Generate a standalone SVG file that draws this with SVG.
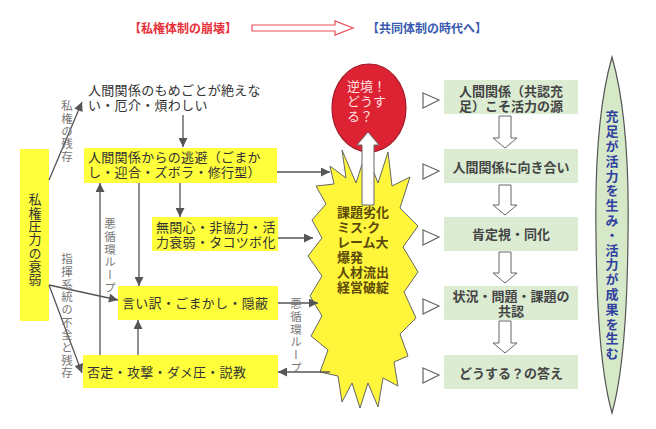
<svg xmlns="http://www.w3.org/2000/svg" width="656" height="429" viewBox="0 0 656 429">
<defs>
<marker id="ah" viewBox="0 0 10 10" refX="10" refY="5" markerWidth="10" markerHeight="9" markerUnits="userSpaceOnUse" orient="auto">
<path d="M0,0 L10,5 L0,10 Z" fill="#555"/>
</marker>
<style>
text{font-family:"Liberation Sans","Noto Sans CJK JP",sans-serif;}
.v{font-family:"Noto Sans CJK JP",sans-serif;writing-mode:vertical-rl;}
.t{font-size:13px;fill:#333;letter-spacing:0.3px;}
.g{font-size:13px;fill:#444;font-weight:bold;text-anchor:middle;}
.lbl{font-size:11.5px;fill:#777;letter-spacing:1.2px;}
.yb{fill:#ffff3c;}
.gb{fill:#dbecd3;}
.ln{stroke:#555;stroke-width:1.3;fill:none;marker-end:url(#ah);}
.ha{fill:#fff;stroke:#666;stroke-width:1;}
.tri{fill:#fff;stroke:#666;stroke-width:1.2;}
</style>
</defs>
<rect width="656" height="429" fill="#fff"/>

<g id="title">
<text x="129" y="33" style="font-size:12px;font-weight:bold;fill:#e8303a;">【私権体制の崩壊】</text>
<path d="M252,25 H335 V21 L353,28 L335,35 V31 H252 Z" fill="#fff" stroke="#e8505a" stroke-width="1.2"/>
<text x="367" y="33" style="font-size:12px;font-weight:bold;fill:#3a5ab0;">【共同体制の時代へ】</text>
</g>

<g id="n-left">
<rect class="yb" x="20" y="149" width="29" height="172"/>
<text class="v" x="35" y="193" style="font-size:13px;fill:#333;letter-spacing:0.3px;">私権圧力の衰弱</text>
</g>

<g id="n-momegoto">
<text class="t"><tspan x="88" y="95">人間関係のもめごとが絶えな</tspan><tspan x="88" y="110">い・厄介・煩わしい</tspan></text>
</g>

<g id="n-touhi">
<rect class="yb" x="84" y="148" width="193" height="35"/>
<text class="t"><tspan x="88" y="162">人間関係からの逃避（ごまか</tspan><tspan x="88" y="177">し・迎合・ズボラ・修行型）</tspan></text>
</g>

<g id="n-mukanshin">
<rect class="yb" x="152" y="217" width="126" height="34"/>
<text class="t"><tspan x="156" y="232">無関心・非協力・活</tspan><tspan x="156" y="247">力衰弱・タコツボ化</tspan></text>
</g>

<g id="n-iiwake">
<rect class="yb" x="118" y="286" width="160" height="34"/>
<text class="t" x="122" y="308">言い訳・ごまかし・隠蔽</text>
</g>

<g id="n-hitei">
<rect class="yb" x="83" y="355" width="195" height="33"/>
<text class="t" x="87" y="377">否定・攻撃・ダメ圧・説教</text>
</g>

<g id="n-gyakkyou">
<ellipse cx="369" cy="108" rx="37" ry="44" fill="#dd2233" stroke="#a01828" stroke-width="1.2"/>
<text style="font-size:13px;fill:#ffe2e2;"><tspan x="347" y="91">逆境！</tspan><tspan x="347" y="106">どうす</tspan><tspan x="347" y="121">る？</tspan></text>
</g>

<g id="n-bakuhatsu">
<polygon points="342,150 356,183 366,152 378,183 388,152 392,186 410,177 400,208 418,226 403,247 418,272 404,292 416,318 400,334 408,356 394,362 398,386 383,378 378,407 368,383 360,408 352,383 342,402 338,376 320,372 328,350 311,336 322,316 310,296 322,276 308,256 322,238 312,220 326,204 316,186 334,184 330,166 346,178" fill="#fff53a" stroke="#666" stroke-width="1"/>
<text style="font-size:13px;font-weight:bold;fill:#5b4a0a;"><tspan x="337" y="217">課題劣化</tspan><tspan x="337" y="232">ミス·ク</tspan><tspan x="337" y="247">レーム大</tspan><tspan x="337" y="262">爆発</tspan><tspan x="337" y="277">人材流出</tspan><tspan x="337" y="292">経営破綻</tspan></text>
<path class="ha" d="M362,205 V145 H357 L368,132 L379,145 H374 V205 Z" stroke="#888"/>
</g>

<g id="n-r1">
<rect class="gb" x="444" y="80" width="134" height="34"/>
<text class="g"><tspan x="511" y="96">人間関係（共認充</tspan><tspan x="511" y="111">足）こそ活力の源</tspan></text>
</g>
<g id="n-r2">
<rect class="gb" x="444" y="149" width="134" height="34"/>
<text class="g" x="511" y="172">人間関係に向き合い</text>
</g>
<g id="n-r3">
<rect class="gb" x="444" y="217" width="134" height="34"/>
<text class="g" x="511" y="239">肯定視・同化</text>
</g>
<g id="n-r4">
<rect class="gb" x="444" y="286" width="134" height="34"/>
<text class="g"><tspan x="511" y="301">状況・問題・課題の</tspan><tspan x="511" y="316">共認</tspan></text>
</g>
<g id="n-r5">
<rect class="gb" x="444" y="355" width="134" height="34"/>
<text class="g" x="511" y="378">どうする？の答え</text>
</g>

<g id="n-spindle">
<path d="M612,57 Q630,120 628,235 Q627,360 612,413 Q597,360 596,235 Q594,120 612,57 Z" fill="#d5e8c8" stroke="#555" stroke-width="1.2"/>
<text class="v" x="612" y="110" style="font-size:13px;font-weight:bold;fill:#3040a0;letter-spacing:1.8px;">充足が活力を生み・活力が成果を生む</text>
</g>

<g id="connectors">
<line class="ln" x1="183" y1="115" x2="183" y2="147"/>
<line class="ln" x1="277" y1="172" x2="330" y2="172"/>
<line class="ln" x1="180" y1="183" x2="180" y2="217"/>
<line class="ln" x1="278" y1="238" x2="313" y2="238"/>
<line class="ln" x1="139" y1="183" x2="139" y2="286"/>
<line class="ln" x1="278" y1="303" x2="318" y2="303"/>
<line class="ln" x1="330" y1="372" x2="278" y2="372"/>
<line class="ln" x1="138" y1="355" x2="138" y2="320"/>
<line class="ln" x1="100" y1="355" x2="100" y2="183"/>
<line class="ln" x1="49" y1="180" x2="82" y2="102"/>
<line class="ln" x1="49" y1="285" x2="118" y2="300"/>
<line class="ln" x1="49" y1="285" x2="82" y2="373"/>
<text class="v lbl" x="67" y="100">私権の残存</text>
<text class="v lbl" x="67" y="253">指揮系統の不全と残存</text>
<text class="v lbl" x="110" y="218">悪循環ループ</text>
<text class="v lbl" x="296" y="298">悪循環ループ</text>
<polygon class="tri" points="423,93 439,100 423,108"/>
<polygon class="tri" points="423,164 439,171 423,179"/>
<polygon class="tri" points="423,230 439,237 423,245"/>
<polygon class="tri" points="423,299 439,306 423,314"/>
<polygon class="tri" points="423,368 439,375 423,383"/>
<path class="ha" d="M499,116 V138 H493 L505,148 L517,138 H511 V116 Z"/>
<path class="ha" d="M499,185 V205 H493 L505,215 L517,205 H511 V185 Z"/>
<path class="ha" d="M499,252 V273 H493 L505,283 L517,273 H511 V252 Z"/>
<path class="ha" d="M499,321 V343 H493 L505,353 L517,343 H511 V321 Z"/>
</g>
</svg>
